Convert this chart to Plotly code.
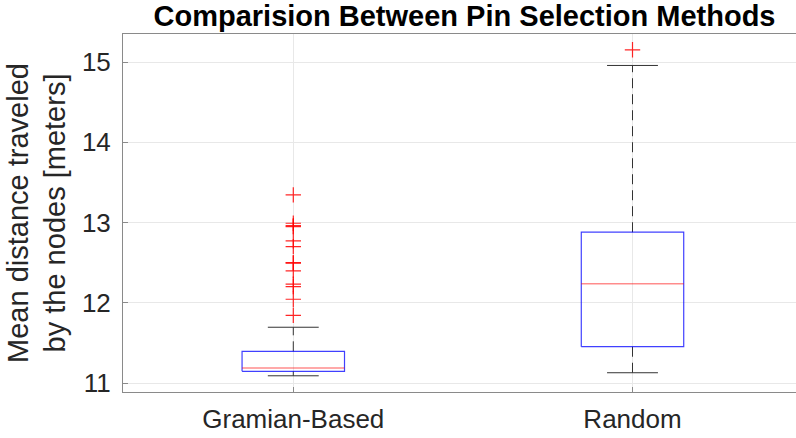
import plotly.graph_objects as go

categories = ["Gramian-Based", "Random"]
q1 = [11.146, 11.453]
medians = [11.187, 12.238]
q3 = [11.395, 12.879]
whisker_low = [11.09, 11.128]
whisker_high = [11.695, 14.957]
outliers = [
    [13.344, 12.991, 12.96, 12.949, 12.771, 12.700, 12.50, 12.493, 12.397,
     12.231, 12.201, 12.044, 11.844],
    [15.152],
]
y_ticks = [11, 12, 13, 14, 15]

BOX_HALF = 0.151
CAP_HALF = 0.075
AX_COLOR = "#8a8a8a"
FONT = "Liberation Sans, Arial, Helvetica, sans-serif"

fig = go.Figure()
for i, name in enumerate(categories):
    x = i + 1
    # whiskers (dashed)
    fig.add_trace(go.Scatter(x=[x, x], y=[q3[i], whisker_high[i]], mode="lines",
                             line=dict(color="#333333", width=1, dash="10px,6px"),
                             hoverinfo="skip", showlegend=False))
    fig.add_trace(go.Scatter(x=[x, x], y=[whisker_low[i], q1[i]], mode="lines",
                             line=dict(color="#333333", width=1, dash="10px,6px"),
                             hoverinfo="skip", showlegend=False))
    # caps
    for v in (whisker_low[i], whisker_high[i]):
        fig.add_trace(go.Scatter(x=[x - CAP_HALF, x + CAP_HALF], y=[v, v], mode="lines",
                                 line=dict(color="#333333", width=1),
                                 hoverinfo="skip", showlegend=False))
    # box
    fig.add_trace(go.Scatter(x=[x - BOX_HALF, x + BOX_HALF, x + BOX_HALF, x - BOX_HALF, x - BOX_HALF],
                             y=[q1[i], q1[i], q3[i], q3[i], q1[i]], mode="lines",
                             line=dict(color="rgba(0,0,255,0.75)", width=1.2),
                             hoverinfo="skip", showlegend=False))
    # median
    fig.add_trace(go.Scatter(x=[x - BOX_HALF, x + BOX_HALF], y=[medians[i], medians[i]], mode="lines",
                             line=dict(color="rgba(255,0,0,0.45)", width=1.5),
                             hoverinfo="skip", showlegend=False))
    # outliers
    fig.add_trace(go.Scatter(x=[x] * len(outliers[i]), y=outliers[i], mode="markers",
                             marker=dict(symbol="cross-thin", size=11,
                                         line=dict(color="rgba(255,0,0,0.85)", width=1.2)),
                             showlegend=False))

fig.update_layout(
    width=796, height=438,
    margin=dict(l=123, r=0, t=34, b=46, autoexpand=False),
    paper_bgcolor="white", plot_bgcolor="white",
    font=dict(family=FONT, color="#262626"),
    title=dict(text="<b>Comparision Between Pin Selection Methods</b>",
               x=464.5 / 796, xref="container", xanchor="center",
               y=1 - 15.5 / 438, yref="container", yanchor="middle",
               font=dict(size=29, color="black", family=FONT)),
)
fig.update_xaxes(
    range=[0.498, 2.482], tickmode="array", tickvals=[1, 2], ticktext=categories,
    showgrid=True, gridcolor="#e8e8e8", gridwidth=1,
    showline=True, linecolor=AX_COLOR, linewidth=1, mirror=True,
    ticks="inside", ticklen=5, tickcolor=AX_COLOR,
    tickfont=dict(size=26, color="#262626"), zeroline=False,
    ticklabelstandoff=4, automargin=False,
)
fig.update_yaxes(
    range=[10.888, 15.349], tickmode="array", tickvals=y_ticks,
    showgrid=True, gridcolor="#e8e8e8", gridwidth=1,
    showline=True, linecolor=AX_COLOR, linewidth=1,
    ticks="inside", ticklen=5, tickcolor=AX_COLOR,
    tickfont=dict(size=26, color="#262626"), zeroline=False,
    ticklabelstandoff=6, automargin=False,
    title=dict(text="Mean distance traveled<br>by the nodes [meters]",
               font=dict(size=29, color="#262626"), standoff=7),
)

fig.write_html(
    "out.html",
    config={"displayModeBar": False},
    post_script="document.body.style.margin='0';document.body.style.overflow='hidden';",
)
